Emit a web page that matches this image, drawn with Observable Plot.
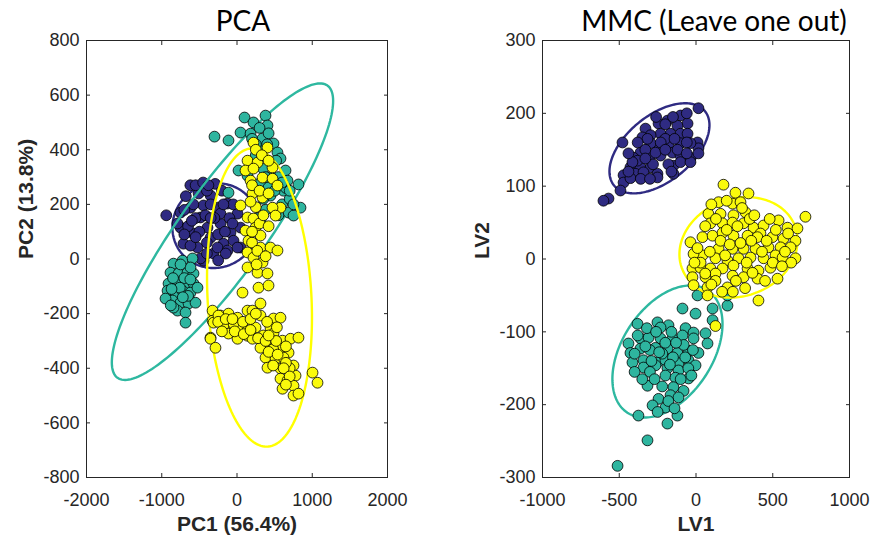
<!DOCTYPE html>
<html><head><meta charset="utf-8">
<script src="https://cdn.jsdelivr.net/npm/d3@7"></script>
<script src="https://cdn.jsdelivr.net/npm/@observablehq/plot@0.6"></script>
<style>
body{margin:0;background:#fff;}
#wrap{position:relative;width:871px;height:539px;overflow:hidden;}
#left{position:absolute;left:0;top:0;}
#right{position:absolute;left:440px;top:0;}
</style></head><body><div id="wrap"><div id="left"></div><div id="right"></div></div>
<script>
// ---------- colours ----------
const purple = "#2F2B82", teal = "#2EB59F", yellow = "#FAFA0C";
const purpleLine = "#2F2B82", tealLine = "#2EB8A0", yellowLine = "#FFFF00";

// ---------- tick values ----------
const pcaXTicks = [-2000, -1000, 0, 1000, 2000];
const pcaYTicks = [-800, -600, -400, -200, 0, 200, 400, 600, 800];
const mmcXTicks = [-1000, -500, 0, 500, 1000];
const mmcYTicks = [-300, -200, -100, 0, 100, 200, 300];

// ---------- PCA scores [PC1, PC2] ----------
const pcaPurple = [[-940,160],[-620,270],[-290,275],[-510,240],[-350,232],[-618,188],[-445,196],[-260,188],[-126,203],[7,166],
[-750,115],[-578,93],[-392,115],[-219,130],[-86,97],[47,115],[-711,56],[-525,42],[-352,78],[-179,56],[-46,67],[-312,20],
[-445,-6],[47,42],[-791,130],[-751,170],[-485,152],[-219,166],[-618,49],[-259,42],[-126,31],[7,42],[-485,2],[-400,250],
[-200,250],[-100,150],[-300,150],[-550,150],[-650,120],[-400,60],[-250,90],[-150,20],[-700,180],[-350,200],[-500,100],
[-50,200],[-580,200],[-420,160],[-160,100],[-680,230],[-550,270],[-450,280],[-380,270],[-700,90],[-600,140],[-350,150],
[-180,200],[-60,130],[-250,-5],[-400,20],[-550,80]];
const pcaTeal = [[-844,-17],[-724,-6],[-591,2],[-884,-50],[-777,-53],[-658,-50],[-578,-53],[-910,-90],[-791,-86],[-684,-90],
[-578,-90],[-923,-116],[-817,-127],[-724,-116],[-618,-123],[-525,-105],[-857,-152],[-751,-160],[-644,-163],[-551,-160],
[-791,-189],[-684,-196],[-684,-233],[-950,-145],[-618,-31],[-844,-178],[-750,-20],[-700,-70],[-850,-70],[-620,-75],
[-760,-105],[-870,-110],[-650,-135],[-720,-140],[-880,-170],
[100,518],[219,500],[379,525],[405,489],[-299,448],[-113,434],[47,463],[180,459],[339,441],[485,423],[538,390],[578,368],
[20,324],[246,349],[645,324],[671,287],[817,273],[618,250],[312,280],[419,262],[140,305],[472,185],[685,170],[844,188],
[751,159],[-113,243],[312,141],[445,232],[300,400],[400,420],[250,420],[450,350],[350,330],[550,300],[500,250],[600,200],
[700,220],[650,260],[380,180],[550,160],[450,300],[300,480],[250,380],[200,440],[420,460],[520,360],[380,300],[700,250],
[600,280],[750,200],[350,220],[280,150]];
const pcaYellow = [[219,426],[405,408],[140,360],[273,353],[113,324],[219,331],[472,335],[180,287],[339,298],[472,294],
[538,269],[206,240],[47,196],[339,225],[578,188],[472,188],[512,159],[140,152],[219,148],[113,104],[246,115],[312,86],
[153,67],[312,42],[445,42],[538,31],[140,24],[219,5],[339,-13],[140,-31],[273,-50],[405,-53],[250,190],[180,210],[300,130],
[200,60],[260,-20],[250,400],[330,380],[420,360],[200,270],[300,250],[420,240],[200,100],[350,160],[420,120],[270,30],[380,10],
[73,-123],[-325,-189],[-219,-207],[-325,-226],[-113,-200],[7,-215],[140,-189],[-126,-237],[47,-251],[140,-281],[-352,-288],
[286,-105],[419,-97],[312,-163],[206,-189],[312,-207],[-312,-233],[-352,-292],[-286,-325],[-246,-207],[-179,-244],[-46,-237],
[-113,-273],[7,-292],[140,-262],[246,-251],[206,-292],[485,-218],[578,-215],[445,-251],[485,-273],[605,-299],[711,-292],
[817,-288],[312,-325],[445,-317],[578,-328],[685,-343],[379,-361],[512,-365],[618,-361],[751,-390],[405,-398],[578,-401],
[778,-427],[578,-438],[671,-445],[605,-475],[751,-464],[751,-500],[817,-493],[1004,-416],[1070,-453],[400,-230],[530,-250],
[350,-280],[650,-320],[480,-330],[700,-400],[650,-380],[-250,-230],[-150,-220],[-60,-220],[80,-230],[180,-220],[250,-200],
[-200,-265],[-30,-265],[90,-275],[180,-260],[280,-290],[380,-300],[520,-300],[420,-340],[540,-350],[620,-400],[700,-430],
[650,-460],[480,-390],[420,-280]];

// ---------- MMC scores [LV1, LV2] ----------
const mmcPurple = [[16,207],[-101,197],[-186,190],[-244,186],[-329,179],[-55,186],[-121,183],[-166,172],[-231,172],[-296,170],
[-349,167],[-479,160],[-101,172],[-55,172],[10,160],[16,152],[-36,159],[-101,159],[-179,156],[-244,153],[-296,159],[-362,146],
[-407,139],[-296,142],[-231,142],[-153,146],[-101,142],[-36,139],[16,145],[-427,126],[-362,126],[-296,126],[-251,117],
[-147,128],[-101,133],[-36,133],[-147,117],[-472,115],[-394,117],[-342,119],[-472,105],[-427,111],[-251,112],[-492,94],
[-570,83],[-603,80],[-316,165],[-264,146],[-381,135],[-414,133],[-200,165],[-280,130],[-180,130],[-330,150],[-60,160],[-120,150],
[-260,195],[-150,195],[-60,200],[-200,185],[-380,160],[-440,145],[-330,138],[-230,160],[-140,165],[-60,145],[-200,150],
[-440,120],[-360,110],[-300,110],[-160,120]];
const mmcYellow = [[179,102],[257,91],[342,90],[147,78],[238,76],[290,78],[81,62],[160,62],[244,60],[323,64],[713,58],[94,49],
[173,49],[238,50],[310,49],[375,43],[440,46],[538,53],[596,43],[661,42],[-36,23],[42,30],[108,32],[173,36],[244,32],[336,32],
[420,35],[498,30],[570,28],[648,25],[616,16],[551,16],[472,16],[388,14],[310,14],[238,14],[147,14],[42,5],[-16,7],[127,1],
[205,-2],[277,1],[355,2],[440,1],[518,5],[564,2],[648,1],[-23,-13],[29,-12],[94,-13],[173,-13],[244,-9],[336,-13],[407,-16],
[485,-12],[-23,-25],[62,-25],[127,-20],[238,-23],[310,-25],[401,-27],[531,-27],[-16,-36],[75,-39],[205,-39],[75,-50],
[407,-57],[127,-30],[368,-19],[127,-92],
[60,45],[130,55],[200,40],[270,45],[350,55],[400,30],[460,25],[520,40],[600,35],[30,-5],[90,10],[160,25],[220,20],[290,22],
[360,25],[430,10],[500,-5],[580,10],[620,-5],[10,15],[60,-20],[190,5],[260,-30],[330,-5],[450,-30],[560,-10],[100,75],
[200,80],[300,70],[380,60],[480,55],[100,-35],[170,-45],[240,-45],[320,-40],[-10,-5]];
const mmcTeal = [[-88,-68],[-3,-75],[108,-68],[205,-64],[108,-84],[-381,-89],[-251,-87],[-179,-91],[-68,-95],[-16,-101],
[62,-102],[-440,-116],[-362,-109],[-309,-108],[-231,-94],[-231,-109],[-153,-109],[-88,-105],[-16,-109],[75,-116],[-427,-129],
[-362,-123],[-264,-122],[-186,-123],[-121,-129],[-49,-126],[16,-129],[-414,-142],[-342,-139],[-251,-142],[-199,-139],
[-114,-143],[-49,-139],[-3,-146],[-342,-149],[-264,-146],[-186,-150],[-114,-153],[-199,-160],[-134,-163],[-49,-164],
[-316,-174],[-147,-176],[-81,-181],[-166,-187],[-114,-190],[-244,-192],[-283,-201],[-199,-204],[-375,-215],[-121,-215],
[-186,-226],[-316,-249],[-511,-284],[-300,-125],[-220,-130],[-150,-135],[-80,-118],[-400,-130],[-300,-155],[-160,-100],
[-50,-150],[10,-50],[205,-50],[-380,-105],[-320,-95],[-260,-100],[-200,-115],[-130,-115],[-70,-135],[-20,-125],[-400,-155],
[-350,-165],[-270,-165],[-220,-175],[-100,-165],[-30,-160],[-180,-195],[-250,-210],[-140,-205],[-330,-120],[-290,-140],
[-240,-128],[-170,-145]];

// ---------- confidence ellipses: centre and two conjugate half-axes ----------
const pcaEllCenter = [[-286,122],[-193,100],[299,-141]];
const pcaEllU = [[571,18],[1395,535],[-93,546]];
const pcaEllV = [[40,-154],[465,-92],[691,0]];
const mmcEllCenter = [[-238,152],[-186,-127],[277,16]];
const mmcEllU = [[296,51],[261,84],[370,28]];
const mmcEllV = [[136,-35],[246,-34],[106,-63]];

function outline(c, u, v) {
  return d3.range(181).map(i => {
    const t = 2 * Math.PI * i / 180;
    return {x: c[0] + u[0]*Math.cos(t) + v[0]*Math.sin(t), y: c[1] + u[1]*Math.cos(t) + v[1]*Math.sin(t)};
  });
}

function panel(o) {
  const marks = [];
  o.groups.forEach((g, i) => {
    marks.push(Plot.line(outline(o.centers[i], o.us[i], o.vs[i]), {x: "x", y: "y", stroke: g.line, strokeWidth: 2.4}));
    marks.push(Plot.dot(g.pts, {x: d => d[0], y: d => d[1], r: 5.4, fill: g.fill, stroke: "#000", strokeWidth: 0.8}));
  });
  marks.push(Plot.frame({stroke: "#262626", strokeWidth: 1}));
  const fmt = d => String(d);
  marks.push(Plot.axisX({ticks: o.xTicks, anchor: "bottom", tickSize: -4, tickPadding: 20, tickFormat: fmt, label: null, fontSize: 18}));
  marks.push(Plot.axisX({ticks: o.xTicks, anchor: "top", tickSize: -4, tickFormat: () => "", label: null}));
  marks.push(Plot.axisY({ticks: o.yTicks, anchor: "left", tickSize: -4, tickPadding: 11, tickFormat: fmt, label: null, fontSize: 18}));
  marks.push(Plot.axisY({ticks: o.yTicks, anchor: "right", tickSize: -4, tickFormat: () => "", label: null}));
  marks.push(Plot.text([o.xLabel], {text: d => d, frameAnchor: "bottom", dy: 47, fontWeight: "bold", fontSize: 21, lineAnchor: "middle"}));
  marks.push(Plot.text([o.yLabel], {text: d => d, frameAnchor: "left", dx: -60, rotate: -90, fontWeight: "bold", fontSize: 21, lineAnchor: "middle"}));
  marks.push(Plot.text([o.title], {text: d => d, frameAnchor: "top", dy: -18, dx: o.titleDx, fontSize: 28, fontFamily: "Lato", fill: "#000", lineAnchor: "middle"}));
  return Plot.plot({
    width: o.width, height: 539,
    marginLeft: o.ml, marginRight: o.mr, marginTop: 40, marginBottom: 62,
    x: {domain: o.xDomain}, y: {domain: o.yDomain},
    style: {fontFamily: "'Liberation Sans', Arial, sans-serif", color: "#262626", background: "transparent", overflow: "visible"},
    marks
  });
}

document.getElementById("left").appendChild(panel({
  width: 440, ml: 86, mr: 53, xDomain: [-2000, 2000], yDomain: [-800, 800],
  xTicks: pcaXTicks, yTicks: pcaYTicks, xLabel: "PC1 (56.4%)", yLabel: "PC2 (13.8%)", title: "PCA", titleDx: 6,
  centers: pcaEllCenter, us: pcaEllU, vs: pcaEllV,
  groups: [{pts: pcaPurple, fill: purple, line: purpleLine}, {pts: pcaTeal, fill: teal, line: tealLine}, {pts: pcaYellow, fill: yellow, line: yellowLine}]
}));
document.getElementById("right").appendChild(panel({
  width: 431, ml: 102, mr: 22, xDomain: [-1000, 1000], yDomain: [-300, 300],
  xTicks: mmcXTicks, yTicks: mmcYTicks, xLabel: "LV1", yLabel: "LV2", title: "MMC (Leave one out)", titleDx: 18,
  centers: mmcEllCenter, us: mmcEllU, vs: mmcEllV,
  groups: [{pts: mmcPurple, fill: purple, line: purpleLine}, {pts: mmcTeal, fill: teal, line: tealLine}, {pts: mmcYellow, fill: yellow, line: yellowLine}]
}));
</script></body></html>
